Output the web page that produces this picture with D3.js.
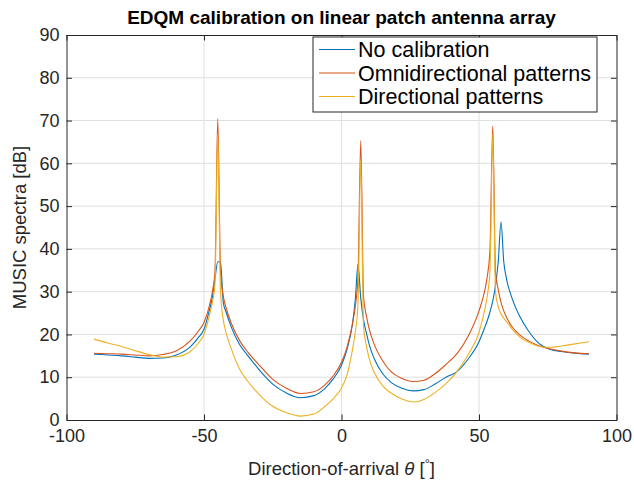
<!DOCTYPE html>
<html>
<head>
<meta charset="utf-8">
<script src="https://cdn.jsdelivr.net/npm/d3@7"></script>
<style>
  body { margin: 0; background: #fff; }
  text { font-family: "Liberation Sans", Arial, sans-serif; fill: #262626; }
</style>
</head>
<body>
<script>
// direction-of-arrival grid (degrees)
var theta = [-90,-85,-80,-75,-70,-65,-60,-55,-52,-50,-48,-47,-46,-45,-44,-43,-42,-40,-37,-34,
  -30,-25,-20,-15,-10,-6,-3,0,2,4,5,6,7,8,9,10,12,15,18,22,26,30,34,38,42,46,50,52,53,54,
  55,56,57,58,59,60,62,65,68,72,76,80,85,90];

// MUSIC spectra in dB
var noCalibration = [15.4,15.2,15.0,14.7,14.4,14.5,15.2,17.1,19.3,21.2,25.8,28.5,33,37,37,27.5,25.3,21.6,17.6,15.0,
  11.8,8.4,6.3,5.2,5.7,7.4,9.6,12.8,16.5,22.5,28,36.4,28.5,23.5,20.5,17.8,14.2,10.8,8.8,7.4,6.8,7.1,8.4,10.0,11.3,14.2,18.3,21.5,23.2,25.3,
  27.8,31.5,37,46.3,37,33,28.5,24,20.8,17.8,16.5,16.0,15.6,15.4];

var omniPatterns = [15.6,15.5,15.4,15.2,15.0,15.3,16.2,18.5,20.8,22.8,26.8,29.8,35,70.4,35,29,26.3,22.5,18.5,15.8,
  12.9,9.5,7.4,6.2,6.6,8.2,10.3,13.5,17,22.5,26.5,33.5,65.3,29,24.5,21.5,17.5,13.8,11.3,9.7,9.0,9.3,10.8,13,15.5,19.5,25.5,30,33.5,40,
  68.8,34.5,30.5,27.5,25.5,24,21.8,19.8,18.5,17.3,16.6,16.1,15.7,15.5];

var dirPatterns = [18.9,18.0,17.2,16.2,15.3,14.7,14.8,16.0,18,20,24.5,27.3,32,67,30,23.4,20.5,16.5,11.8,9.0,
  6.0,3.2,1.7,0.9,1.4,3.2,5.0,7.5,10.5,16.5,20.5,27,60.8,22,17.5,14.5,11,8,6.3,4.9,4.2,4.8,6.4,8.5,11.3,15.2,20.5,25.5,29,35,
  66.8,30,26.5,24.8,23.8,23,21.3,19.3,18.2,17.2,17.0,17.3,17.8,18.3];

var seriesNames = ["No calibration", "Omnidirectional patterns", "Directional patterns"];
var seriesColors = ["#0072BD", "#D95319", "#EDB120"];
var xTicks = [-100, -50, 0, 50, 100];
var yTicks = [0, 10, 20, 30, 40, 50, 60, 70, 80, 90];

var svgWidth = 634;
var svgHeight = 483;
var margin = {top: 35, right: 17.5, bottom: 63, left: 66.5};
var chartWidth = svgWidth - margin.left - margin.right;
var chartHeight = svgHeight - margin.top - margin.bottom;

var svg = d3.select("body").append("svg")
  .attr("width", svgWidth)
  .attr("height", svgHeight);

var g = svg.append("g")
  .attr("transform", `translate(${margin.left}, ${margin.top})`);

var x = d3.scaleLinear().domain([-100, 100]).range([0, chartWidth]);
var y = d3.scaleLinear().domain([0, 90]).range([chartHeight, 0]);

// grid
g.append("g").selectAll("line").data(xTicks.slice(1, -1)).join("line")
  .attr("x1", d => x(d)).attr("x2", d => x(d))
  .attr("y1", 0).attr("y2", chartHeight)
  .attr("stroke", "#dfdfdf").attr("stroke-width", 1);
g.append("g").selectAll("line").data(yTicks.slice(1, -1)).join("line")
  .attr("x1", 0).attr("x2", chartWidth)
  .attr("y1", d => y(d)).attr("y2", d => y(d))
  .attr("stroke", "#dfdfdf").attr("stroke-width", 1);

// curves
var data = [noCalibration, omniPatterns, dirPatterns];
var line = d3.line()
  .x((d, i) => x(theta[i]))
  .y(d => y(d))
  .curve(d3.curveMonotoneX);

g.append("g").selectAll("path").data(data).join("path")
  .attr("d", line)
  .attr("fill", "none")
  .attr("stroke", (d, i) => seriesColors[i])
  .attr("stroke-width", 1.1);

// axes, ticks pointing inwards
var fs = "18px";
var xAxis = g.append("g")
  .attr("transform", `translate(0, ${chartHeight})`)
  .call(d3.axisBottom(x).tickValues(xTicks).tickSize(-5.5).tickPadding(9).tickSizeOuter(0));
var xTop = g.append("g")
  .call(d3.axisTop(x).tickValues(xTicks).tickSize(-5.5).tickFormat("").tickSizeOuter(0));
var yAxis = g.append("g")
  .call(d3.axisLeft(y).tickValues(yTicks).tickSize(-5.5).tickPadding(7).tickSizeOuter(0));
var yRight = g.append("g")
  .attr("transform", `translate(${chartWidth}, 0)`)
  .call(d3.axisRight(y).tickValues(yTicks).tickSize(-5.5).tickFormat("").tickSizeOuter(0));

[xAxis, xTop, yAxis, yRight].forEach(a => {
  a.select(".domain").attr("stroke", "#262626");
  a.selectAll(".tick line").attr("stroke", "#262626");
  a.selectAll(".tick text").attr("fill", "#262626").style("font-size", fs)
    .style("font-family", "'Liberation Sans', Arial, sans-serif");
});
xAxis.selectAll(".tick text").text(d => d < 0 ? "-" + Math.abs(d) : d);

// title
svg.append("text")
  .attr("x", margin.left + chartWidth / 2)
  .attr("y", 24)
  .attr("text-anchor", "middle")
  .style("font-size", "19px")
  .style("font-weight", "bold")
  .style("fill", "#000")
  .text("EDQM calibration on linear patch antenna array");

// x label
var xl = svg.append("text")
  .attr("x", margin.left + chartWidth / 2)
  .attr("y", 475)
  .attr("text-anchor", "middle")
  .style("font-size", "18.5px");
xl.append("tspan").text("Direction-of-arrival ");
xl.append("tspan").style("font-style", "italic").text("θ");
xl.append("tspan").text(" [");
xl.append("tspan").attr("dy", -7).style("font-size", "13px").text("°");
xl.append("tspan").attr("dy", 7).text("]");

// y label
svg.append("text")
  .attr("transform", `translate(26, ${margin.top + chartHeight / 2}) rotate(-90)`)
  .attr("text-anchor", "middle")
  .style("font-size", "18.5px")
  .text("MUSIC spectra [dB]");

// legend
var legend = svg.append("g").attr("transform", "translate(313, 37)");
legend.append("rect")
  .attr("width", 284).attr("height", 75)
  .attr("fill", "#fff").attr("stroke", "#262626").attr("stroke-width", 1);
var item = legend.selectAll("g.item").data(seriesNames).join("g")
  .attr("class", "item")
  .attr("transform", (d, i) => `translate(0, ${12.5 + i * 23.5})`);
item.append("line")
  .attr("x1", 6).attr("x2", 42)
  .attr("stroke", (d, i) => seriesColors[i]).attr("stroke-width", 1.1);
item.append("text")
  .attr("x", 45).attr("dy", "0.35em")
  .style("font-size", "21.5px")
  .style("fill", "#000")
  .text(d => d);
</script>
</body>
</html>
